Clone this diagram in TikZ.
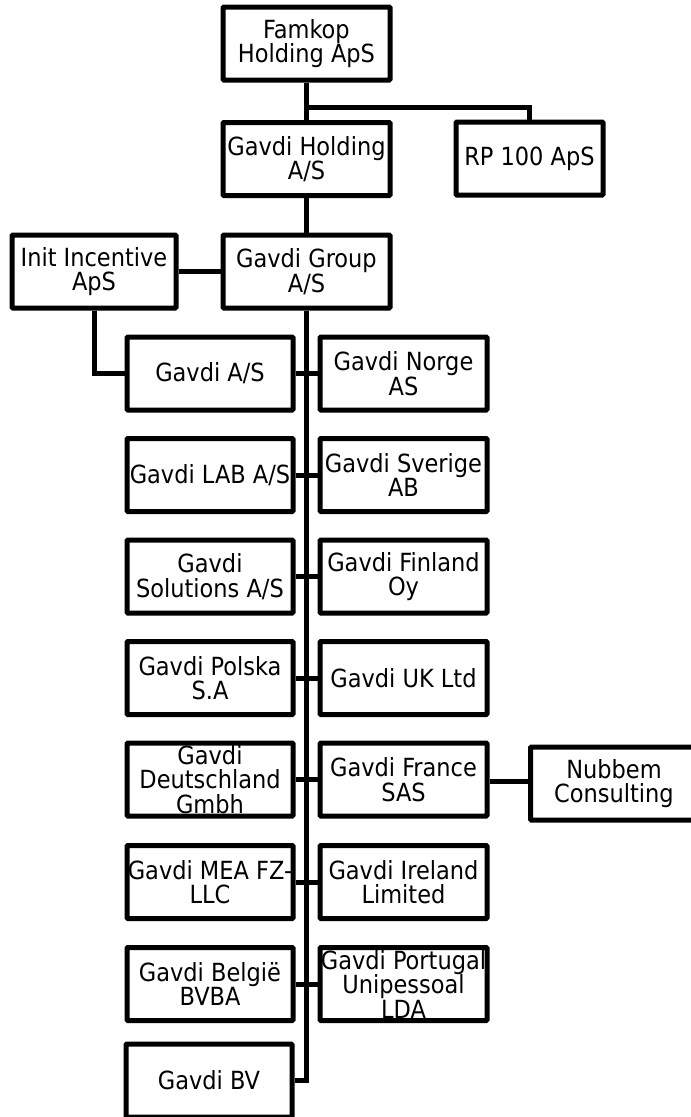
\documentclass[tikz,border=0pt]{standalone}
\usepackage{fontspec}
\setmainfont{DejaVu Sans Condensed}
\begin{document}
\begin{tikzpicture}[x=1pt, y=-1pt,
        company/.style={draw, line width=5pt, rounded corners=1pt, inner xsep=0pt, inner ysep=-3pt,
            minimum width=167pt, minimum height=73pt, align=center,
            font=\fontsize{25}{24.5}\selectfont},
        link/.style={line width=5pt}]
    \useasboundingbox[fill=white] (0,0) rectangle (691,1117);
    % top of the tree
    \node[company] (famkop) at (306.5,43.5) {Famkop\\Holding ApS};
    \node[company] (holding) at (306.5,159) {Gavdi Holding\\A/S};
    \node[company, minimum width=147pt] (rp) at (529.5,158.5) {RP 100 ApS};
    \node[company] (group) at (306.5,271.5) {Gavdi Group\\A/S};
    \node[company, minimum width=164pt] (init) at (94,271.5) {Init Incentive\\ApS};
    % left column
    \node[company, minimum width=166pt] (gavdias) at (210,373.5) {Gavdi A/S};
    \node[company, minimum width=166pt] (lab) at (210,475) {Gavdi LAB A/S};
    \node[company, minimum width=166pt] (solutions) at (210,576.5) {Gavdi\\Solutions A/S};
    \node[company, minimum width=166pt] (polska) at (210,678) {Gavdi Polska\\S.A};
    \node[company, minimum width=166pt] (deutschland) at (210,779.5) {Gavdi\\Deutschland\\Gmbh};
    \node[company, minimum width=166pt] (mea) at (210,882) {Gavdi MEA FZ-\\LLC};
    \node[company, minimum width=166pt] (belgie) at (210,984) {Gavdi België\\BVBA};
    \node[company, minimum width=166pt] (bv) at (209,1080.5) {Gavdi BV};
    % right column
    \node[company] (norge) at (403.5,373.5) {Gavdi Norge\\AS};
    \node[company] (sverige) at (403.5,475) {Gavdi Sverige\\AB};
    \node[company] (finland) at (403.5,576.5) {Gavdi Finland\\Oy};
    \node[company] (uk) at (403.5,678) {Gavdi UK Ltd};
    \node[company] (france) at (403.5,779.5) {Gavdi France\\SAS};
    \node[company] (ireland) at (403.5,882) {Gavdi Ireland\\Limited};
    \node[company] (portugal) at (403.5,984) {Gavdi Portugal\\Unipessoal\\LDA};
    \node[company] (nubbem) at (614,783.5) {Nubbem\\Consulting};
    % connectors
    \coordinate (split) at (306.5,107);
    \coordinate (trunkend) at (306.5,1080.5);
    \draw[link] (famkop.south) -- (split) -- (holding.north);
    \draw[link] (split) -| (rp.north);
    \draw[link] (holding.south) -- (group.north);
    \draw[link] (init.east) -- (group.west);
    \draw[link] (init.south) |- (gavdias.west);
    \draw[link] (group.south) -- (trunkend) -- (bv.east);
    \draw[link] (gavdias.east) -- (norge.west);
    \draw[link] (lab.east) -- (sverige.west);
    \draw[link] (solutions.east) -- (finland.west);
    \draw[link] (polska.east) -- (uk.west);
    \draw[link] (deutschland.east) -- (france.west);
    \draw[link] (mea.east) -- (ireland.west);
    \draw[link] (belgie.east) -- (portugal.west);
    \draw[link] ([yshift=-2pt]france.east) -- ([yshift=-2pt]france.east -| nubbem.west);
\end{tikzpicture}
\end{document}
